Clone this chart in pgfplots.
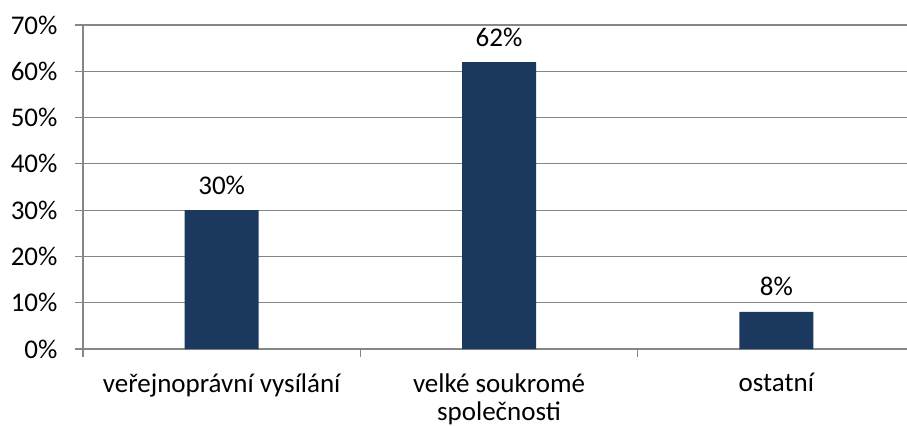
\documentclass[border=0pt]{standalone}
\usepackage{pgfplots}
\pgfplotsset{compat=1.18}
\usepackage{fontspec}
\setmainfont{Carlito}
\definecolor{barblue}{RGB}{27,57,94}
\definecolor{gridgray}{RGB}{134,134,134}
\begin{document}
\begin{tikzpicture}[font=\fontsize{27bp}{28bp}\selectfont]
\begin{axis}[
  at={(0,0)}, anchor=south west,
  scale only axis, width=832bp, height=324bp,
  xmin=-0.5, xmax=2.5, ymin=0, ymax=70,
  axis x line*=bottom, axis y line*=left,
  axis line style={draw=gridgray, line width=1.2bp},
  /pgf/number format/assume math mode=true,
  ybar, bar width=74bp,
  xtick={0,1,2},
  xticklabels={veřejnoprávní vysílání, {velké soukromé\\společnosti}, ostatní},
  xticklabel style={align=center, text=black, yshift=-13bp},
  xtick style={draw=none},
  tick align=outside,
  major tick length=8bp,
  extra x ticks={-0.5,0.5,1.5},
  extra x tick labels={},
  extra x tick style={xtick style={draw=gridgray, line width=1.2bp}, grid=none},
  ytick={0,10,20,30,40,50,60,70},
  yticklabels={0\%,10\%,20\%,30\%,40\%,50\%,60\%,70\%},
  yticklabel style={text=black, xshift=-14bp},
  ytick style={draw=gridgray, line width=1.2bp},
  ymajorgrids,
  major grid style={draw=gridgray, line width=1.2bp},
  nodes near coords={\pgfmathprintnumber{\pgfplotspointmeta}\%},
  every node near coord/.append style={anchor=base, yshift=16bp, inner sep=0pt, text=black},
  clip=false,
]
\addplot[fill=barblue, draw=none] coordinates {(0,30) (1,62) (2,8)};
\end{axis}
\pgfresetboundingbox
\useasboundingbox (-83bp,-77bp) rectangle (824bp,349bp);
\end{tikzpicture}
\end{document}
